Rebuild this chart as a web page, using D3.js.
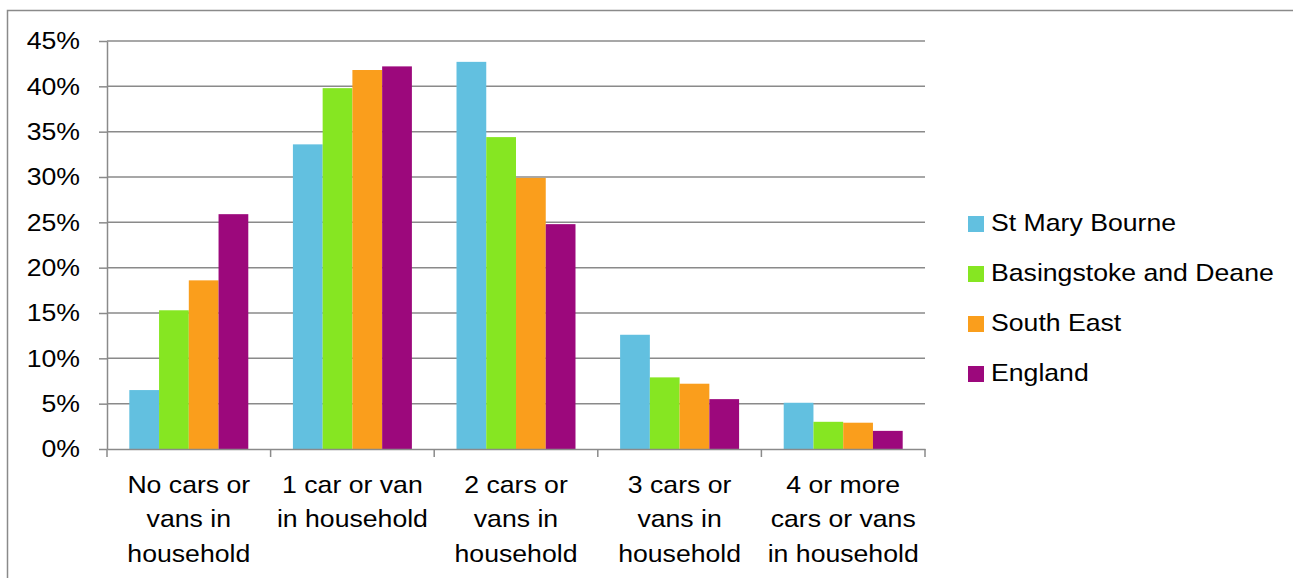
<!DOCTYPE html>
<html>
<head>
<meta charset="utf-8">
<script src="https://cdn.jsdelivr.net/npm/d3@7"></script>
<style>
  html, body { margin: 0; padding: 0; background: #fff; }
  svg { display: block; }
  text { font-family: "Liberation Sans", Arial, sans-serif; fill: #000; }
</style>
</head>
<body>
<svg id="chart" width="1293" height="578"></svg>
<script>
// ---- data ----
const categories = [
  "No cars or vans in household",
  "1 car or van in household",
  "2 cars or vans in household",
  "3 cars or vans in household",
  "4 or more cars or vans in household"
];
const categoryLines = [
  ["No cars or", "vans in", "household"],
  ["1 car or van", "in household"],
  ["2 cars or", "vans in", "household"],
  ["3 cars or", "vans in", "household"],
  ["4 or more", "cars or vans", "in household"]
];
const seriesNames = ["St Mary Bourne", "Basingstoke and Deane", "South East", "England"];
const stMaryBourne = [0.065, 0.336, 0.427, 0.126, 0.051];
const basingstoke  = [0.153, 0.398, 0.344, 0.079, 0.030];
const southEast    = [0.186, 0.418, 0.299, 0.072, 0.029];
const england      = [0.259, 0.422, 0.248, 0.055, 0.020];
const seriesValues = [stMaryBourne, basingstoke, southEast, england];
const seriesColors = ["#62C0E0", "#86E622", "#FA9E1C", "#9C087C"];
const yTicks = [0, 0.05, 0.10, 0.15, 0.20, 0.25, 0.30, 0.35, 0.40, 0.45];

// ---- layout ----
const svg = d3.select("#chart");
const plot = { left: 107, right: 925, top: 41, bottom: 449 };
const SX = 1.11;         // horizontal text stretch
const FS = 24;           // font size
const gridColor = "#8a8a8a";

// outer border (extends beyond right / bottom edge)
svg.append("rect")
  .attr("x", 7.5).attr("y", 10.5)
  .attr("width", 1400).attr("height", 700)
  .attr("fill", "none").attr("stroke", gridColor).attr("stroke-width", 1.5);

const x = d3.scaleBand().domain(categories).range([plot.left, plot.right]).paddingInner(0).paddingOuter(0);
const xs = d3.scaleBand().domain(seriesNames).range([0, x.bandwidth()]).paddingInner(0).paddingOuter(0.75);
const y = d3.scaleLinear().domain([0, 0.45]).range([plot.bottom, plot.top]);

// gridlines
svg.append("g").selectAll("line").data(yTicks.filter(d => d > 0)).join("line")
  .attr("x1", plot.left).attr("x2", plot.right)
  .attr("y1", d => y(d)).attr("y2", d => y(d))
  .attr("stroke", gridColor).attr("stroke-width", 1.5);

// bars
const rows = categories.map((c, i) => ({ cat: c, vals: seriesNames.map((s, j) => ({ s, j, v: seriesValues[j][i] })) }));
const groups = svg.append("g").selectAll("g").data(rows).join("g")
  .attr("transform", d => `translate(${x(d.cat)},0)`);
groups.selectAll("rect").data(d => d.vals).join("rect")
  .attr("x", d => xs(d.s)).attr("width", xs.bandwidth())
  .attr("y", d => y(d.v)).attr("height", d => y(0) - y(d.v))
  .attr("fill", d => seriesColors[d.j]);

// y axis
const yAxis = svg.append("g").attr("transform", `translate(${plot.left},0)`)
  .call(d3.axisLeft(y).tickValues(yTicks).tickFormat(d3.format(".0%")).tickSize(8).tickSizeOuter(0));
yAxis.select(".domain").attr("stroke", gridColor).attr("stroke-width", 1.5);
yAxis.selectAll(".tick line").attr("stroke", gridColor).attr("stroke-width", 1.5);
yAxis.selectAll(".tick text")
  .attr("x", -27 / SX).attr("dy", "0.32em")
  .attr("font-size", FS).attr("font-family", "Liberation Sans, Arial, sans-serif")
  .attr("fill", "#000")
  .attr("transform", `scale(${SX},1)`);

// x axis
const xAxis = svg.append("g").attr("transform", `translate(0,${plot.bottom})`)
  .call(d3.axisBottom(x).tickSize(0).tickFormat(""));
xAxis.select(".domain").attr("stroke", gridColor).attr("stroke-width", 1.5);
xAxis.selectAll(".tick").remove();
const bounds = categories.map(c => x(c)).concat([plot.right]);
xAxis.selectAll("line.bt").data(bounds).join("line").attr("class", "bt")
  .attr("x1", d => d).attr("x2", d => d).attr("y1", 0).attr("y2", 8)
  .attr("stroke", gridColor).attr("stroke-width", 1.5);

// x labels
const xl = svg.append("g").selectAll("text").data(categories).join("text")
  .attr("transform", (d, i) => `translate(${x(d) + x.bandwidth() / 2},493) scale(${SX},1)`)
  .attr("text-anchor", "middle").attr("font-size", FS);
xl.selectAll("tspan").data((d, i) => categoryLines[i]).join("tspan")
  .attr("x", 0).attr("y", (d, k) => k * 34.5).text(d => d);

// legend
const lg = svg.append("g").selectAll("g").data(seriesNames).join("g")
  .attr("transform", (d, i) => `translate(968,${216 + i * 50})`);
lg.append("rect").attr("width", 16).attr("height", 16).attr("fill", (d, i) => seriesColors[i]);
lg.append("text").attr("transform", `translate(23,15) scale(${SX},1)`)
  .attr("font-size", FS).text(d => d);
</script>
</body>
</html>
